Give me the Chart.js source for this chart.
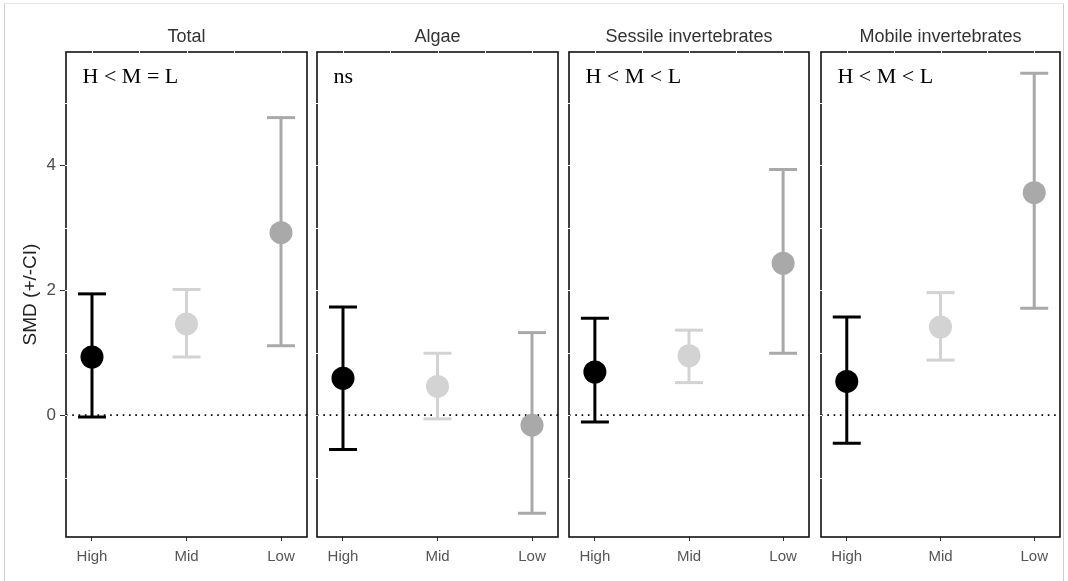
<!DOCTYPE html>
<html>
<head>
<meta charset="utf-8">
<script src="https://cdn.jsdelivr.net/npm/chart.js@4.4.1/dist/chart.umd.min.js"></script>
<style>
  html, body { margin: 0; padding: 0; background: #fff; }
  #wrap { position: relative; width: 1068px; height: 581px; overflow: hidden; }
  #frame { position: absolute; left: 4px; top: 3px; width: 1058px; height: 600px; border: 1px solid #cfcfcf; border-top-color: #e4e4e4; }
  canvas { position: absolute; top: 0; }
</style>
</head>
<body>
<div id="wrap">
  <div id="frame"></div>
  <canvas id="p0" width="310" height="581" style="left:0px"></canvas>
  <canvas id="p1" width="247" height="581" style="left:314px"></canvas>
  <canvas id="p2" width="246" height="581" style="left:566px"></canvas>
  <canvas id="p3" width="245" height="581" style="left:818px"></canvas>
</div>
<script>
// facets and groups
const panels = ['Total', 'Algae', 'Sessile invertebrates', 'Mobile invertebrates'];
const sites = ['High', 'Mid', 'Low'];
const contrasts = ['H < M = L', 'ns', 'H < M < L', 'H < M < L'];

// SMD and confidence limits, one row per facet (High, Mid, Low)
const smd   = [[0.93, 1.46, 2.92], [0.59, 0.46, -0.16], [0.69, 0.95, 2.43], [0.54, 1.41, 3.56]];
const lower = [[-0.03, 0.93, 1.11], [-0.55, -0.06, -1.57], [-0.11, 0.52, 0.99], [-0.45, 0.88, 1.71]];
const upper = [[1.94, 2.01, 4.76], [1.73, 0.99, 1.32], [1.55, 1.36, 3.93], [1.57, 1.96, 5.47]];

const yTicks = [0, 2, 4];
const yMin = -1.95, yMax = 5.81;
const xMin = 0.725, xMax = 3.275;

const siteColors = ['#000000', '#d3d3d3', '#a9a9a9'];
const sans = '"Liberation Sans", Arial, sans-serif';

// panel border, white grid nicks on the top/left border, contrast label
const panelDecor = {
  id: 'panelDecor',
  afterDatasetsDraw(chart, args, opts) {
    const { ctx, chartArea: a, scales: { x, y } } = chart;
    ctx.save();
    ctx.strokeStyle = '#111';
    ctx.lineWidth = 1.6;
    ctx.strokeRect(a.left, a.top, a.right - a.left, a.bottom - a.top);
    ctx.strokeStyle = '#fff';
    ctx.lineWidth = 1;
    for (let v = -1; v <= 5; v++) {
      const py = Math.round(y.getPixelForValue(v)) + 0.5;
      ctx.beginPath(); ctx.moveTo(a.left - 1, py); ctx.lineTo(a.left + 1.2, py); ctx.stroke();
    }
    for (let v = 1; v <= 3; v += 0.5) {
      const px = Math.round(x.getPixelForValue(v)) + 0.5;
      ctx.beginPath(); ctx.moveTo(px, a.top - 1); ctx.lineTo(px, a.top + 1.2); ctx.stroke();
    }
    ctx.fillStyle = '#000';
    ctx.font = '22px "Liberation Serif", "Times New Roman", serif';
    ctx.textAlign = 'left';
    ctx.textBaseline = 'alphabetic';
    ctx.fillText(opts.text, x.getPixelForValue(0.9), y.getPixelForValue(5.31));
    ctx.restore();
  }
};

panels.forEach((name, i) => {
  const datasets = [];
  // dotted zero line
  datasets.push({
    data: [{ x: xMin, y: 0 }, { x: xMax, y: 0 }],
    showLine: true, borderColor: '#000', borderWidth: 1.6, borderDash: [1.6, 4.7],
    pointRadius: 0, order: 10
  });
  // error bars
  sites.forEach((s, j) => {
    datasets.push({
      data: [{ x: j + 1, y: lower[i][j] }, { x: j + 1, y: upper[i][j] }],
      showLine: true, borderColor: siteColors[j], borderWidth: 3, pointRadius: 0, order: 5
    });
  });
  // caps
  datasets.push({
    data: sites.flatMap((s, j) => [{ x: j + 1, y: lower[i][j] }, { x: j + 1, y: upper[i][j] }]),
    pointStyle: 'line', pointRadius: 14, pointBorderWidth: 3,
    pointBorderColor: sites.flatMap((s, j) => [siteColors[j], siteColors[j]]),
    order: 4
  });
  // means
  datasets.push({
    data: sites.map((s, j) => ({ x: j + 1, y: smd[i][j] })),
    pointRadius: 11.5, pointBorderWidth: 0,
    pointBackgroundColor: siteColors, order: 1
  });

  new Chart(document.getElementById('p' + i), {
    type: 'scatter',
    data: { datasets },
    plugins: [panelDecor],
    options: {
      responsive: false,
      animation: false,
      events: [],
      layout: { autoPadding: false, padding: { left: 0, right: 3, top: 0, bottom: 0 } },
      plugins: {
        legend: { display: false },
        tooltip: { enabled: false },
        title: {
          display: true, text: name, fullSize: false, color: '#333',
          font: { family: sans, size: 18, weight: 'normal', lineHeight: 1.2 },
          padding: { top: 26, bottom: 4.4 }
        },
        panelDecor: { text: contrasts[i] }
      },
      scales: {
        x: {
          type: 'linear', min: xMin, max: xMax,
          afterBuildTicks: s => { s.ticks = sites.map((_, j) => ({ value: j + 1 })); },
          afterFit: s => { s.height = 44; s.paddingLeft = 0; s.paddingRight = 0; },
          border: { display: false },
          grid: { drawOnChartArea: false, drawTicks: true, tickLength: 4, tickWidth: 1, tickColor: '#333' },
          ticks: {
            autoSkip: false, maxRotation: 0, padding: 7, color: '#555',
            font: { family: sans, size: 15 },
            callback: v => sites[v - 1]
          }
        },
        y: {
          min: yMin, max: yMax,
          afterBuildTicks: s => { s.ticks = yTicks.map(v => ({ value: v })); },
          afterFit: s => { s.width = i === 0 ? 66 : 3; s.paddingTop = 0; s.paddingBottom = 0; },
          border: { display: false },
          grid: { drawOnChartArea: false, drawTicks: i === 0, tickLength: 6, tickWidth: 1, tickColor: '#333' },
          ticks: { display: i === 0, padding: 4, color: '#4d4d4d', font: { family: sans, size: 17 } },
          title: {
            display: i === 0, text: 'SMD (+/-CI)', color: '#222',
            font: { family: sans, size: 19 }, padding: { top: 19, bottom: 0 }
          }
        }
      }
    }
  });
});
</script>
</body>
</html>
